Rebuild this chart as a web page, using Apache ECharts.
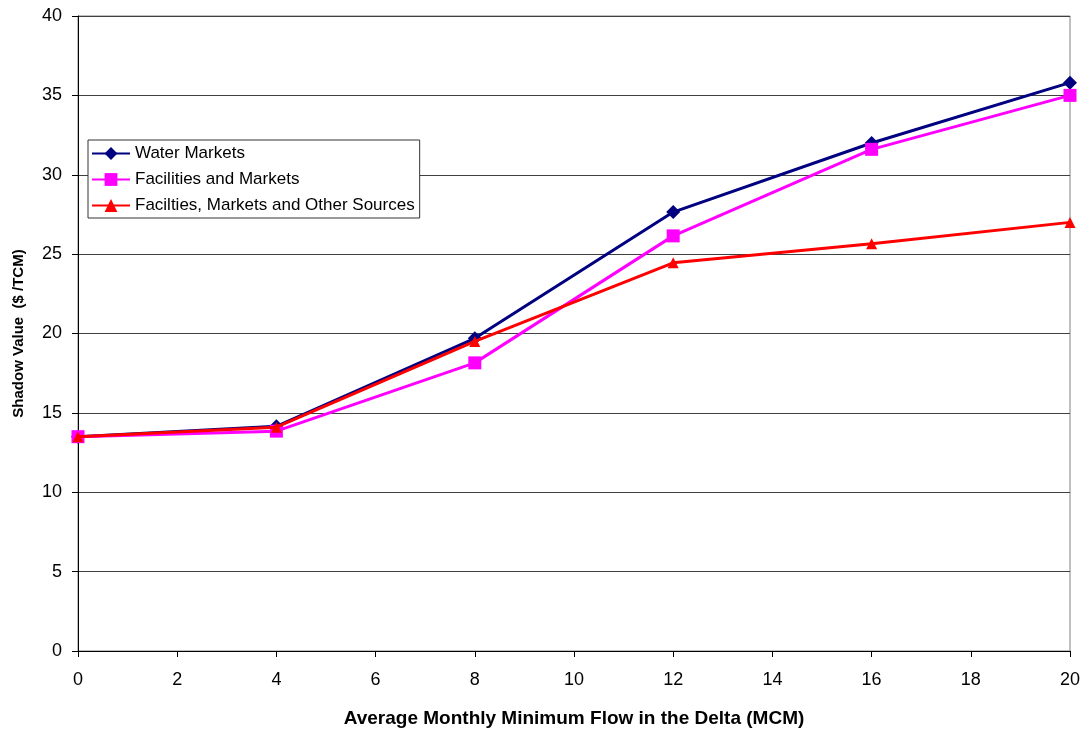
<!DOCTYPE html>
<html><head><meta charset="utf-8">
<script src="https://cdn.jsdelivr.net/npm/echarts@6/dist/echarts.min.js"></script>
<style>html,body{margin:0;padding:0;background:#fff}#c{width:1088px;height:736px}</style>
</head><body><div id="c"></div>
<script>
const flows = [0, 4, 8, 12, 16, 20];
const waterMarkets = [13.5, 14.15, 19.7, 27.65, 32.0, 35.8];
const facilitiesMarkets = [13.5, 13.85, 18.15, 26.15, 31.6, 35.0];
const facilitiesMarketsOther = [13.5, 14.1, 19.5, 24.45, 25.65, 27.0];
const seriesNames = ['Water Markets', 'Facilities and Markets', 'Facilties, Markets and Other Sources'];

const font = 'Liberation Sans, Arial, sans-serif';
const chart = echarts.init(document.getElementById('c'));
function pts(arr){ return flows.map((x,i)=>[x, arr[i]]); }
chart.setOption({
  animation:false,
  grid:{left:78, right:18, top:16, bottom:85, show:true, borderColor:'#808080', borderWidth:1},
  legend:{
    left:88, top:140, orient:'vertical', itemGap:9, itemWidth:38, itemHeight:16,
    backgroundColor:'#fff', borderColor:'#333', borderWidth:1, padding:[5,5,4,3],
    textStyle:{fontFamily:font, fontSize:17, color:'#000'},
    data:seriesNames
  },
  xAxis:{
    type:'value', min:0, max:20, interval:2,
    name:'Average Monthly Minimum Flow in the Delta (MCM)', nameLocation:'middle', nameGap:58,
    nameTextStyle:{fontFamily:font, fontSize:19, fontWeight:'bold', color:'#000'},
    axisLine:{lineStyle:{color:'#000'}}, axisTick:{length:6, lineStyle:{color:'#000'}},
    axisLabel:{fontFamily:font, fontSize:18, color:'#000', margin:20},
    splitLine:{show:false}
  },
  yAxis:{
    type:'value', min:0, max:40, interval:5,
    name:'Shadow Value  ($ /TCM)', nameLocation:'middle', nameGap:52,
    nameTextStyle:{fontFamily:font, fontSize:15, fontWeight:'bold', color:'#000'},
    axisLine:{show:true, lineStyle:{color:'#000'}}, axisTick:{show:true, length:6, lineStyle:{color:'#000'}},
    axisLabel:{fontFamily:font, fontSize:18, color:'#000', margin:16},
    splitLine:{lineStyle:{color:'#404040', width:1}}
  },
  series:[
    {name:seriesNames[0], type:'line', data:pts(waterMarkets), symbol:'diamond', symbolSize:14,
     lineStyle:{color:'#000080', width:3}, itemStyle:{color:'#000080'}, z:3},
    {name:seriesNames[1], type:'line', data:pts(facilitiesMarkets), symbol:'rect', symbolSize:13,
     lineStyle:{color:'#ff00ff', width:3}, itemStyle:{color:'#ff00ff'}, z:4},
    {name:seriesNames[2], type:'line', data:pts(facilitiesMarketsOther), symbol:'triangle', symbolSize:11,
     lineStyle:{color:'#ff0000', width:3}, itemStyle:{color:'#ff0000'}, z:5}
  ]
});
</script></body></html>
